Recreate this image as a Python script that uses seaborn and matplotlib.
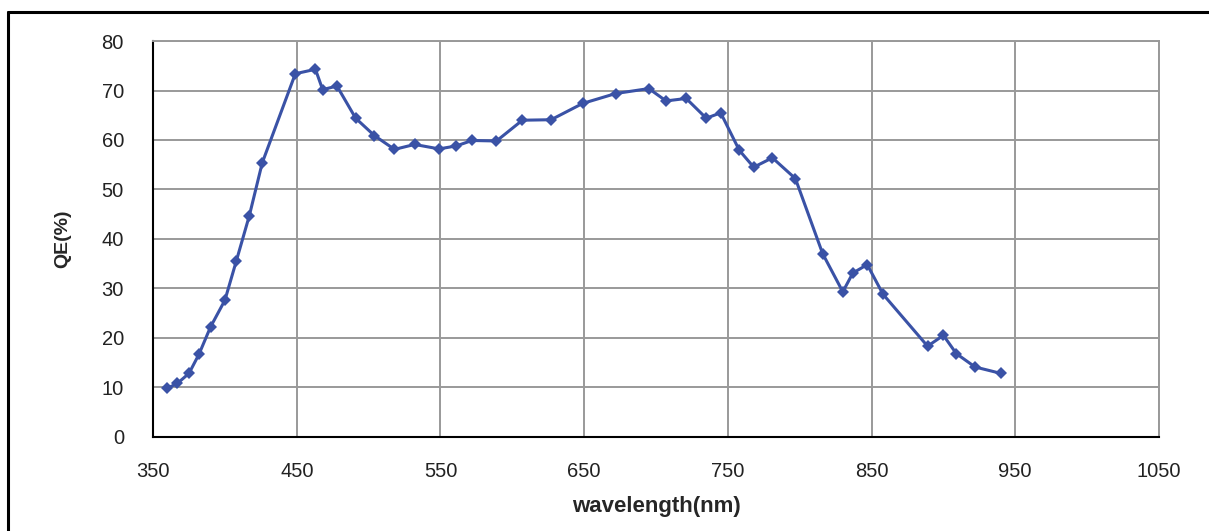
import numpy as np
import pandas as pd
import matplotlib
matplotlib.use("Agg")
import matplotlib.pyplot as plt
from matplotlib.lines import Line2D
import seaborn as sns

# data
wavelength = [360, 367, 375, 382, 390, 400, 408, 417, 426, 449, 463, 468, 478,
              491, 504, 518, 532, 549, 561, 572, 589, 607, 627, 649, 672, 695,
              707, 721, 735, 745, 758, 768, 781, 797, 816, 830, 837, 847, 858,
              889, 900, 909, 922, 940]
qe = [9.8, 10.8, 12.8, 16.7, 22.2, 27.6, 35.6, 44.7, 55.4, 73.4, 74.3, 70.2,
      70.9, 64.4, 60.9, 58.1, 59.1, 58.2, 58.8, 59.9, 59.8, 64.0, 64.1, 67.4,
      69.4, 70.4, 67.9, 68.4, 64.4, 65.5, 57.9, 54.5, 56.4, 52.2, 37.0, 29.3,
      33.1, 34.8, 28.8, 18.3, 20.5, 16.8, 14.1, 12.8]

x_ticks = [350, 450, 550, 650, 750, 850, 950, 1050]
y_ticks = [0, 10, 20, 30, 40, 50, 60, 70, 80]

df = pd.DataFrame({"wavelength": wavelength, "qe": qe})

sns.set_style("white")
plt.rcParams['font.family'] = ['Liberation Sans', 'DejaVu Sans']

fig = plt.figure(figsize=(12.09, 5.31), dpi=100)
ax = fig.add_axes([0.1266, 0.1776, 0.832, 0.745])

sns.lineplot(data=df, x="wavelength", y="qe", ax=ax, color="#3A52A6",
             linewidth=2.2, marker="D", markersize=6.5, markeredgewidth=0,
             zorder=5)

ax.set_xlim(350, 1050)
ax.set_ylim(0, 80)
ax.set_xticks(x_ticks)
ax.set_yticks(y_ticks)
ax.grid(True, color="#999999", linewidth=1.4)
ax.set_axisbelow(True)

for side in ["top", "right"]:
    ax.spines[side].set_color("#999999")
    ax.spines[side].set_linewidth(1.4)
for side in ["left", "bottom"]:
    ax.spines[side].set_color("black")
    ax.spines[side].set_linewidth(1.5)

ax.tick_params(axis="both", direction="out", length=9, width=1.3,
               color="black", labelsize=14.5, labelcolor="#222222")
ax.tick_params(axis="y", pad=12)
ax.tick_params(axis="x", pad=9)

ax.set_xlabel("wavelength(nm)", fontsize=16, fontweight="bold", labelpad=11)
ax.set_ylabel("QE(%)", fontsize=14, fontweight="bold", labelpad=22)

# outer frame (only left and top edges visible in the reference)
fig.add_artist(Line2D([0.0066, 0.0066], [0, 0.977], transform=fig.transFigure,
                      color="black", linewidth=2.2))
fig.add_artist(Line2D([0.0066, 1.0], [0.977, 0.977], transform=fig.transFigure,
                      color="black", linewidth=2.2))

fig.savefig("out.png", dpi=100)
